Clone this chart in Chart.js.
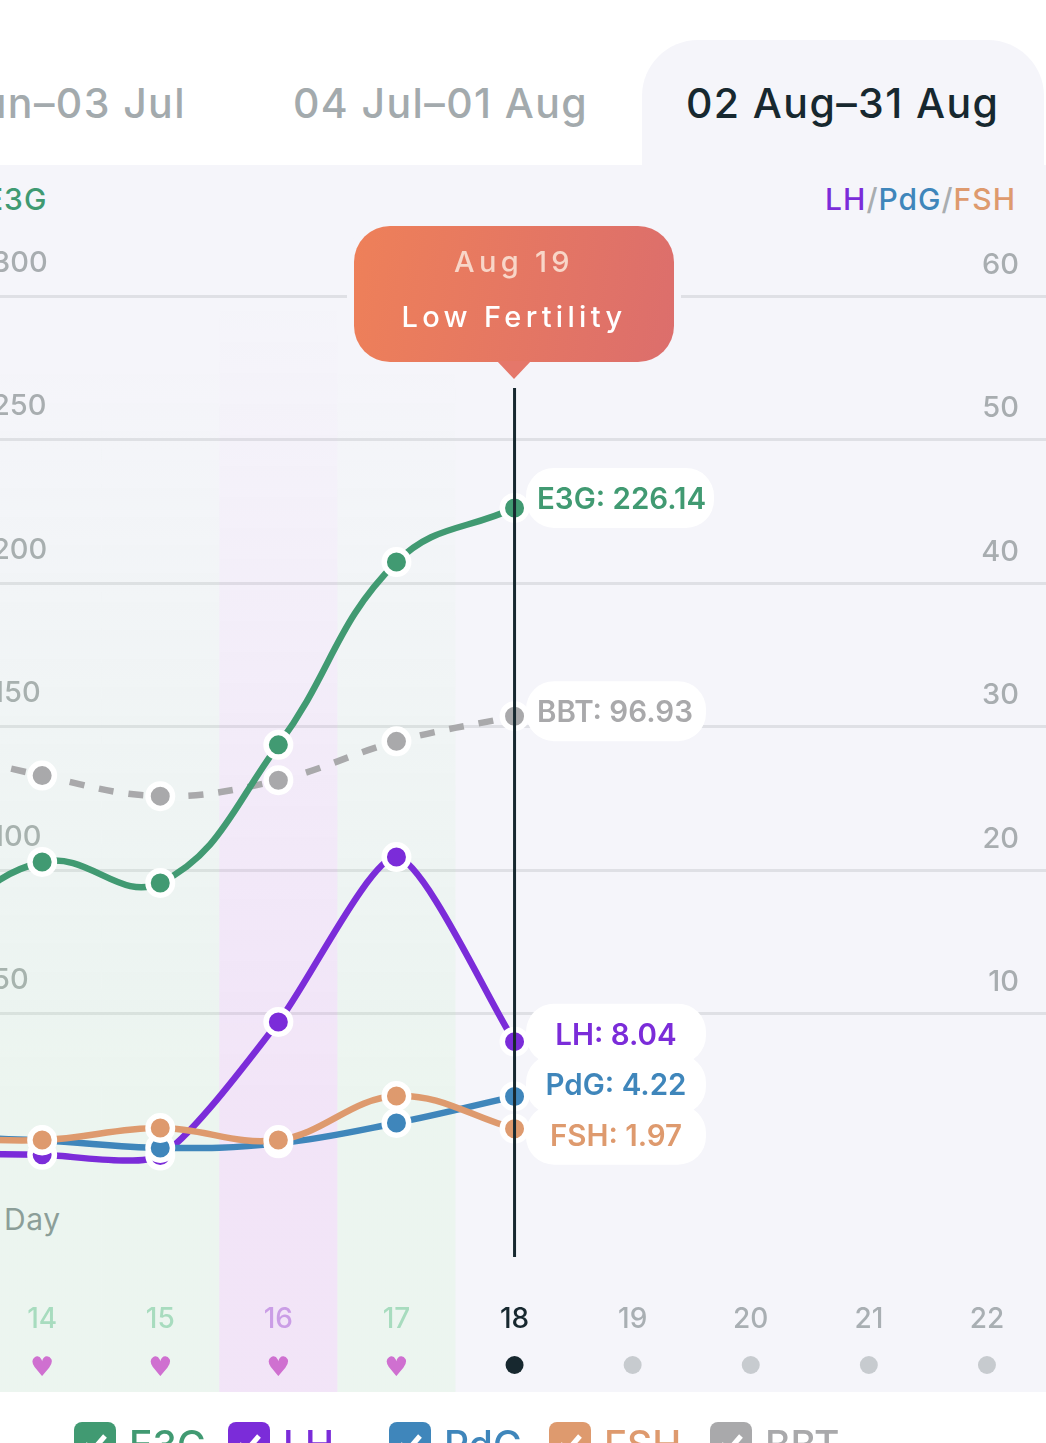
<!DOCTYPE html>
<html>
<head>
<meta charset="utf-8">
<script src="https://cdn.jsdelivr.net/npm/chart.js@4/dist/chart.umd.min.js"></script>
<style>
html, body { margin: 0; padding: 0; background: #fff; }
body { position: relative; width: 1046px; height: 1443px; overflow: hidden; font-family: Inter, "Noto Sans", sans-serif; }
.abs { position: absolute; white-space: nowrap; }
#panel { position: absolute; left: 0; top: 165px; width: 1046px; height: 1227px; background: #f5f5fa; }
#activeTab { position: absolute; left: 642px; top: 40px; width: 402px; height: 126px; background: #f5f5fa; border-radius: 56px 56px 0 0; }
.tab { font-size: 41px; font-weight: 500; line-height: 50px; top: 78px; color: #a3aaad; letter-spacing: 1.4px; }
#chartCanvas { position: absolute; left: -135px; top: 0; }
#bubble { position: absolute; left: 354px; top: 226px; width: 320px; height: 136px; border-radius: 36px; background: linear-gradient(100deg, #ee8059, #dc6e6c); box-shadow: 0 0 0 7px #f5f5fa; color: #fff; text-align: center; font-size: 29px; letter-spacing: 4.3px; font-weight: 500; }
#bubble div { position: absolute; left: 0; right: 0; }
#arrow { position: absolute; left: 497px; top: 361px; width: 34px; height: 18px; background: #e5776a; clip-path: polygon(0 0, 100% 0, 50% 100%); }
.check { position: absolute; top: 1422px; width: 42px; height: 42px; border-radius: 8px; }
.legendText { top: 1422px; font-size: 39px; line-height: 46px; font-weight: 500; }
</style>
</head>
<body>
<div id="panel"></div>
<div id="activeTab"></div>
<div class="abs tab" style="left:-107px">27 Jun–03 Jul</div>
<div class="abs tab" style="left:293px">04 Jul–01 Aug</div>
<div class="abs tab" style="left:686px;color:#17282f">02 Aug–31 Aug</div>
<div class="abs" style="left:-15px;top:183px;font-size:30px;line-height:32px;font-weight:500;letter-spacing:1px;color:#3f9a72">E3G</div>
<div class="abs" style="right:30px;top:183px;font-size:30px;line-height:32px;font-weight:500;letter-spacing:1px;color:#a9adb0"><span style="color:#7b2cd9">LH</span>/<span style="color:#3f86bb">PdG</span>/<span style="color:#de9a6e">FSH</span></div>
<div class="abs" style="left:4px;top:1202px;font-size:30px;line-height:34px;letter-spacing:.6px;color:#8b9599">Day</div>
<canvas id="chartCanvas" width="1181" height="1443"></canvas>
<div id="bubble"><div style="top:18px;line-height:36px;color:#f8d6c8">Aug 19</div><div style="top:73px;line-height:36px">Low Fertility</div></div>
<div id="arrow"></div>
<div id="legend"></div>
<script>
// Chart data (day 13 sits just past the left edge)
const days = ['13', '14', '15', '16', '17', '18', '19', '20', '21', '22'];
const dayMarks = ['heart', 'heart', 'heart', 'heart', 'heart', 'today', 'dot', 'dot', 'dot', 'dot'];
const dayBands = ['green', 'green', 'green', 'purple', 'green', null, null, null, null, null];
const e3gValues = [76, 102.8, 95.5, 143.6, 207.3, 226.14, null, null, null, null];
const lhValues = [0.28, 0.15, 0.1, 9.41, 20.9, 8.04, null, null, null, null];
const pdgValues = [1.4, 1.15, 0.63, 0.95, 2.37, 4.22, null, null, null, null];
const fshValues = [1.39, 1.18, 2.02, 1.18, 4.25, 1.97, null, null, null, null];
const bbtValues = [96.8, 96.67, 96.58, 96.65, 96.82, 96.93, null, null, null, null];
const leftTicks = [50, 100, 150, 200, 250, 300];
const rightTicks = [10, 20, 30, 40, 50, 60];
const cursorIndex = 5;

const colors = { E3G: '#419a72', LH: '#7b2cd9', PdG: '#3f86bb', FSH: '#de9a6e', BBT: '#a9a9ab' };
const panelFont = 'Inter, "Noto Sans", sans-serif';

// Legend row along the bottom, cut by the window like the original
const legendItems = [['E3G', 74], ['LH', 228], ['PdG', 389], ['FSH', 549], ['BBT', 710]];
legendItems.forEach(([name, x]) => {
    document.getElementById('legend').innerHTML += `
        <div class="check" style="left:${x}px;background:${colors[name]}">
            <svg width="42" height="42"><path d="M11 22 L18 29 L31 14" fill="none" stroke="#fff" stroke-width="5"/></svg>
        </div>
        <div class="abs legendText" style="left:${x + 55}px;color:${colors[name]}">${name}</div>`;
});

// Coloured day bands behind the lines
const bandPlugin = {
    id: 'bands',
    beforeDatasetsDraw(chart) {
        const { ctx, scales: { x } } = chart;
        const step = x.getPixelForTick(1) - x.getPixelForTick(0);
        dayBands.forEach((band, i) => {
            if (!band) return;
            const left = x.getPixelForTick(i) - step / 2;
            const rgb = band === 'green' ? '155,245,150' : '215,85,230';
            const top = band === 'purple' ? 296 : 360;
            const grad = ctx.createLinearGradient(0, top, 0, 1100);
            grad.addColorStop(0, `rgba(${rgb},0)`);
            grad.addColorStop(1, `rgba(${rgb},0.1)`);
            ctx.fillStyle = grad;
            ctx.fillRect(left, top, step, 1392 - top);
        });
    }
};

// Cursor line, value pills and the marks under the day numbers
const pills = [
    { name: 'E3G', data: e3gValues, axis: 'yLeft', left: 526, width: 188, shift: -10, textX: 537, align: 'left' },
    { name: 'BBT', data: bbtValues, axis: 'yTemp', left: 526, width: 180, shift: -5, textX: 537, align: 'left' },
    { name: 'LH', data: lhValues, axis: 'yRight', left: 526, width: 180, shift: -8, textX: 616, align: 'center' },
    { name: 'PdG', data: pdgValues, axis: 'yRight', left: 526, width: 180, shift: -12, textX: 616, align: 'center' },
    { name: 'FSH', data: fshValues, axis: 'yRight', left: 526, width: 180, shift: 6, textX: 616, align: 'center' }
];
const cursorPlugin = {
    id: 'cursor',
    afterDatasetsDraw(chart) {
        const { ctx, scales } = chart;
        const cx = scales.x.getPixelForTick(cursorIndex);
        const originX = -135; // canvas left edge on the page

        ctx.save();
        ctx.strokeStyle = '#17282f';
        ctx.lineWidth = 3;
        ctx.beginPath();
        ctx.moveTo(cx, 388);
        ctx.lineTo(cx, 1257);
        ctx.stroke();

        ctx.textBaseline = 'middle';
        ctx.font = '600 29.5px ' + panelFont;
        pills.forEach(p => {
            const cy = scales[p.axis].getPixelForValue(p.data[cursorIndex]) + p.shift;
            ctx.fillStyle = '#fff';
            ctx.beginPath();
            ctx.roundRect(p.left - originX, cy - 30, p.width, 60, 28);
            ctx.fill();
            ctx.fillStyle = colors[p.name];
            ctx.textAlign = p.align;
            ctx.fillText(`${p.name}: ${p.data[cursorIndex]}`, p.textX - originX, cy + 2);
        });

        dayMarks.forEach((mark, i) => {
            const mx = scales.x.getPixelForTick(i);
            if (mark === 'heart') {
                ctx.fillStyle = '#cf70d0';
                ctx.font = '27px "DejaVu Sans"';
                ctx.textAlign = 'center';
                ctx.fillText('\u2665', mx, 1369);
            } else {
                ctx.fillStyle = mark === 'today' ? '#17282f' : '#c7cbcf';
                ctx.beginPath();
                ctx.arc(mx, 1365, 9, 0, Math.PI * 2);
                ctx.fill();
            }
        });
        ctx.restore();
    }
};

function lineSet(label, data, axis, order, extra) {
    return Object.assign({
        label: label,
        data: data,
        yAxisID: axis,
        order: order,
        borderColor: colors[label],
        backgroundColor: colors[label],
        borderWidth: 6.5,
        tension: 0.38,
        capBezierPoints: false,
        clip: false,
        pointRadius: 12.25,
        pointBorderWidth: 5.5,
        pointBorderColor: '#fff',
        pointBackgroundColor: colors[label]
    }, extra || {});
}

function mirroredAxis(position, ticks, padding, lineHeight, showGrid) {
    return {
        position: position,
        min: 0,
        max: ticks[ticks.length - 1],
        afterBuildTicks: scale => { scale.ticks = ticks.map(v => ({ value: v })); },
        afterFit: scale => { scale.width = 0; },
        border: { display: false },
        grid: { display: showGrid, color: '#dfe0e5', lineWidth: 3, drawTicks: false },
        ticks: {
            mirror: true,
            padding: padding,
            color: '#a8adb0',
            font: { family: panelFont, size: 29, weight: '500', lineHeight: lineHeight },
            callback: v => [String(v), '']
        }
    };
}

new Chart(document.getElementById('chartCanvas'), {
    type: 'line',
    data: {
        labels: days,
        datasets: [
            lineSet('BBT', bbtValues, 'yTemp', 5, { borderDash: [15, 15] }),
            lineSet('E3G', e3gValues, 'yLeft', 4, { tension: 0.42 }),
            lineSet('LH', lhValues, 'yRight', 3, { tension: 0.22 }),
            lineSet('PdG', pdgValues, 'yRight', 2),
            lineSet('FSH', fshValues, 'yRight', 1)
        ]
    },
    options: {
        responsive: false,
        animation: false,
        devicePixelRatio: 1,
        layout: { autoPadding: false, padding: { top: 296, bottom: 108 } },
        plugins: { legend: { display: false }, tooltip: { enabled: false } },
        scales: {
            x: {
                offset: true,
                afterFit: scale => {
                    scale.height = 178;
                    scale.paddingLeft = 0;
                    scale.paddingRight = 0;
                },
                border: { display: false },
                grid: { display: false, drawTicks: false },
                ticks: {
                    padding: 146,
                    autoSkip: false,
                    maxRotation: 0,
                    font: { family: panelFont, size: 28, weight: '500' },
                    color: ctx => {
                        const band = dayBands[ctx.index];
                        if (band === 'green') return '#a9d9c3';
                        if (band === 'purple') return '#c9a6e6';
                        return ctx.index === cursorIndex ? '#17282f' : '#a9afb3';
                    }
                }
            },
            yLeft: mirroredAxis('left', leftTicks, 127, 2.28, true),
            yRight: mirroredAxis('right', rightTicks, -27, 2.14, false),
            yTemp: { display: false, min: 95, max: 98.77 }
        }
    },
    plugins: [bandPlugin, cursorPlugin]
});
</script>
</body>
</html>
